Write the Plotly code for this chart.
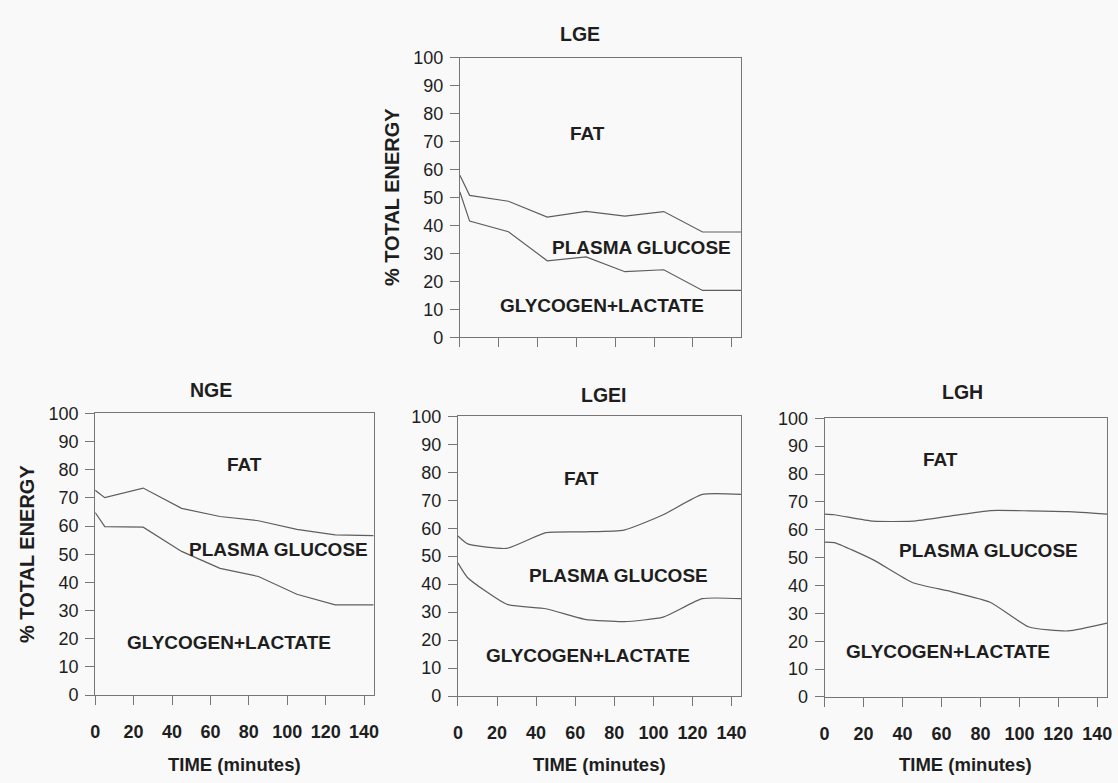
import plotly.graph_objects as go

time_min = [0, 5, 25, 45, 65, 85, 105, 125, 145]

# upper boundary = glycogen+lactate + plasma glucose ; lower boundary = glycogen+lactate
lge_upper = [58, 50.8, 48.7, 43, 45.1, 43.4, 45, 37.7, 37.7]
lge_lower = [52, 41.6, 37.8, 27.4, 28.8, 23.5, 24.2, 16.8, 16.8]

nge_upper = [72.7, 70.1, 73.5, 66.3, 63.4, 61.9, 58.8, 56.9, 56.6]
nge_lower = [64.8, 59.8, 59.6, 51, 45, 42.1, 35.8, 32, 32]

lgei_upper = [57.2, 54.4, 52.8, 58.4, 58.7, 59.3, 64.8, 72.1, 72.1]
lgei_lower = [47.6, 42.3, 32.8, 31.2, 27.4, 26.6, 28.2, 34.8, 34.8]

lgh_upper = [65.6, 65.4, 63.1, 63.1, 65, 66.9, 66.8, 66.5, 65.6]
lgh_lower = [55.6, 55.4, 49.2, 41.1, 37.8, 34, 25.1, 23.7, 26.5]

panel_names = ["LGE", "NGE", "LGEI", "LGH"]
y_ticks = [0, 10, 20, 30, 40, 50, 60, 70, 80, 90, 100]
x_ticks = [0, 20, 40, 60, 80, 100, 120, 140]
region_labels = ["FAT", "PLASMA GLUCOSE", "GLYCOGEN+LACTATE"]

# label positions (data coords) per panel: FAT, PLASMA GLUCOSE, GLYCOGEN+LACTATE
label_pos = {
    "LGE": [(65.5, 73), (93.5, 32), (73, 11.5)],
    "NGE": [(77.5, 82), (95.5, 51.7), (69.5, 18.7)],
    "LGEI": [(63, 77.8), (82, 43), (66.7, 14.4)],
    "LGH": [(59.5, 85.3), (84, 52.7), (63.3, 16.5)],
}

series = {
    "LGE": (lge_upper, lge_lower),
    "NGE": (nge_upper, nge_lower),
    "LGEI": (lgei_upper, lgei_lower),
    "LGH": (lgh_upper, lgh_lower),
}

W, H = 1118, 783
# pixel boxes (left, right, top, bottom)
boxes = {
    "LGE": (459, 743, 49, 336),
    "NGE": (91, 372, 414, 703),
    "LGEI": (457, 743, 417, 704),
    "LGH": (827, 1112, 419, 705),
}
title_xy = {"LGE": (580, 25), "NGE": (208, 390), "LGEI": (604, 395), "LGH": (966, 392)}

FONT = "Liberation Sans, Arial, sans-serif"
TXT = "#1e1e1e"
LINE = "#5e5e5e"
AX = "#767676"

fig = go.Figure()
annotations = []
layout_axes = {}

for i, name in enumerate(panel_names):
    idx = "" if i == 0 else str(i + 1)
    xa, ya = "x" + idx, "y" + idx
    l, r, t, b = boxes[name]
    up, lo = series[name]
    shape = "linear" if name in ("LGE", "NGE") else "spline"
    for vals in (up, lo):
        fig.add_trace(go.Scatter(x=time_min, y=vals, mode="lines",
                                 line=dict(color=LINE, width=1.2, shape=shape, smoothing=0.5),
                                 xaxis=xa, yaxis=ya, showlegend=False, hoverinfo="skip"))
    bottom_row = name != "LGE"
    layout_axes["xaxis" + idx] = dict(
        domain=[l / W, r / W], anchor=ya, range=[0, 145],
        tickvals=x_ticks, ticktext=["<b>%d</b>" % v for v in x_ticks],
        ticks="outside", ticklen=9, tickcolor=AX,
        showticklabels=bottom_row, ticklabelstandoff=11,
        tickfont=dict(family=FONT, size=18, color=TXT),
        showline=True, linecolor=AX, linewidth=1.1, mirror=True,
        showgrid=False, zeroline=False, fixedrange=True,
    )
    layout_axes["yaxis" + idx] = dict(
        domain=[1 - b / H, 1 - t / H], anchor=xa, range=[0, 100],
        tickvals=y_ticks, ticks="outside", ticklen=9, tickcolor=AX,
        tickfont=dict(family=FONT, size=18, color=TXT), ticklabelstandoff=3,
        showline=True, linecolor=AX, linewidth=1.1, mirror=True,
        showgrid=False, zeroline=False, fixedrange=True,
    )
    # panel title
    tx, ty = title_xy[name]
    annotations.append(dict(text="<b>%s</b>" % name, x=tx / W, y=1 - ty / H,
                            xref="paper", yref="paper", showarrow=False,
                            font=dict(family=FONT, size=19.5, color=TXT),
                            xanchor="center", yanchor="middle"))
    for lab, (lx, ly) in zip(region_labels, label_pos[name]):
        annotations.append(dict(text="<b>%s</b>" % lab, x=lx, y=ly, xref=xa, yref=ya,
                                showarrow=False, font=dict(family=FONT, size=19, color=TXT),
                                xanchor="center", yanchor="middle"))
    if bottom_row:
        annotations.append(dict(text="<b>TIME (minutes)</b>", x=(l + r) / 2 / W, y=1 - 774 / H,
                                xref="paper", yref="paper", showarrow=False,
                                font=dict(family=FONT, size=18.5, color=TXT),
                                xanchor="center", yanchor="middle"))
    if name in ("LGE", "NGE"):
        annotations.append(dict(text="<b>% TOTAL ENERGY</b>", x=(l - 69) / W, y=1 - (t + b) / 2 / H,
                                xref="paper", yref="paper", showarrow=False, textangle=-90,
                                font=dict(family=FONT, size=20, color=TXT),
                                xanchor="center", yanchor="middle"))

fig.update_layout(
    width=W, height=H, margin=dict(l=0, r=0, t=0, b=0),
    paper_bgcolor="#f9f9f9", plot_bgcolor="#f9f9f9",
    annotations=annotations, **layout_axes,
)

fig.write_html("out.html", config={"displayModeBar": False})
